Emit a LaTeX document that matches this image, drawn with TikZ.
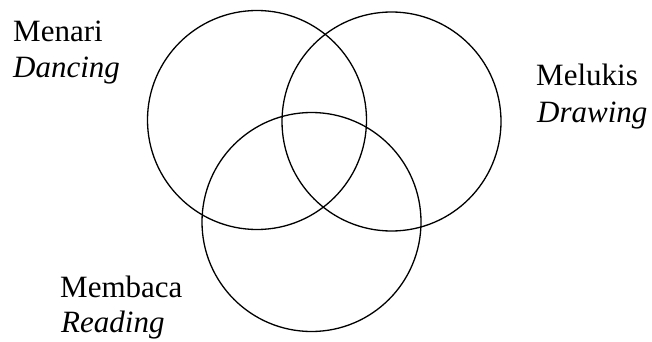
\documentclass[tikz,border=0pt]{standalone}
\usepackage{fontspec}
\setmainfont{Liberation Serif}
\begin{document}
\begin{tikzpicture}[x=1pt,y=-1pt,
  venn/.style={draw=black,line width=1.3pt},
  lbl/.style={inner sep=0pt,anchor=base west,font=\fontsize{31}{36}\selectfont}]
\useasboundingbox (0,0) rectangle (652,342);
\node[venn,circle,minimum size=219pt,inner sep=0pt] (dance) at (257,120) {};
\node[venn,circle,minimum size=219pt,inner sep=0pt] (draw) at (391.5,121.5) {};
\node[venn,circle,minimum size=219pt,inner sep=0pt] (read) at (311.5,222) {};
\node[lbl] (t1) at (13,42) {Menari};
\node[lbl] (t1e) at (13,78) {\itshape Dancing};
\node[lbl] (t2) at (536,86) {Melukis};
\node[lbl] (t2e) at (537,122) {\itshape Drawing};
\node[lbl] (t3) at (60,297) {Membaca};
\node[lbl] (t3e) at (61,332) {\itshape Reading};
\end{tikzpicture}
\end{document}
